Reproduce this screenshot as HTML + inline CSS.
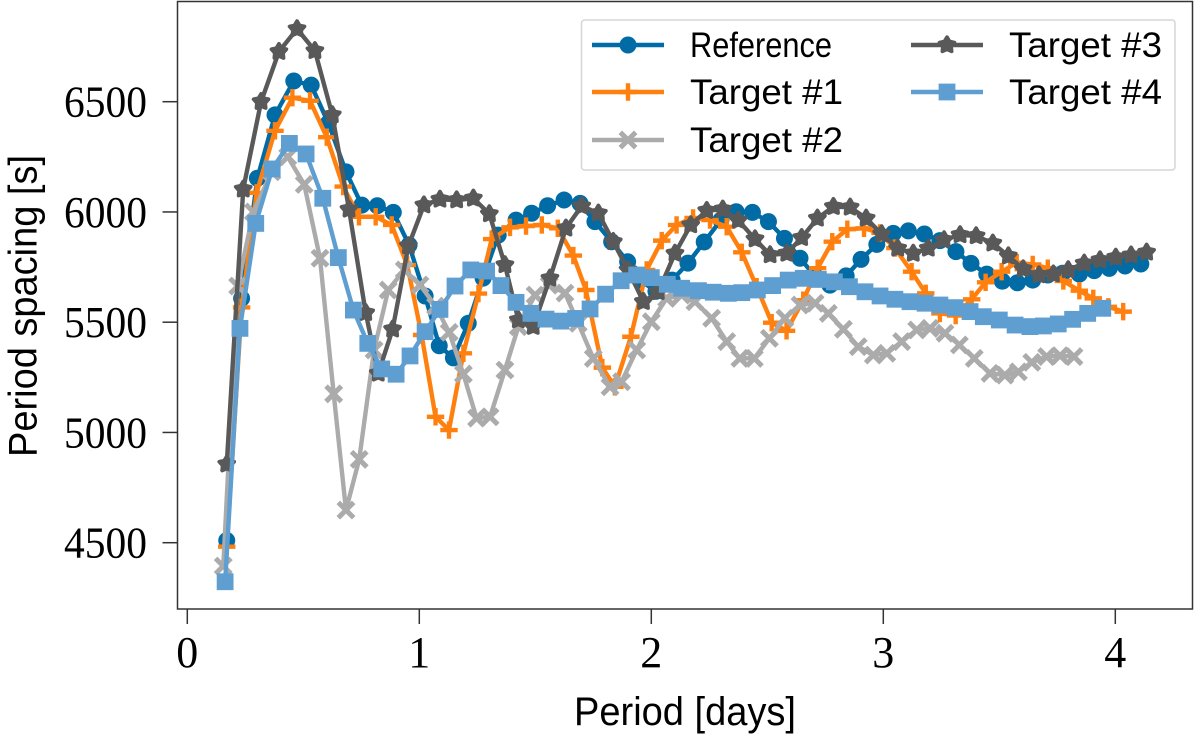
<!DOCTYPE html>
<html>
<head>
<meta charset="utf-8">
<title>Period spacing chart</title>
<style>
html,body{margin:0;padding:0;background:#fff;}
svg{display:block;}
.tick-label{font-family:"Liberation Serif",serif;font-size:44px;fill:#000;}
.axis-title{font-family:"Liberation Sans",sans-serif;font-size:40px;fill:#000;}
.legend-text{font-family:"Liberation Sans",sans-serif;font-size:35px;fill:#000;}
</style>
</head>
<body>
<svg id="chart" xmlns="http://www.w3.org/2000/svg" width="1200" height="737" viewBox="0 0 1200 737"></svg>
<script>
const xTickValues = [0, 1, 2, 3, 4];
const yTickValues = [4500, 5000, 5500, 6000, 6500];
const xAxisTitle = "Period [days]";
const yAxisTitle = "Period spacing [s]";

const referencePeriod = [.17,.234,.302,.378,.459,.534,.608,.684,.752,.819,.888,.956,1.025,1.086,1.147,1.211,1.275,1.34,1.417,1.484,1.553,1.624,1.693,1.757,1.829,1.898,1.951,2.02,2.09,2.158,2.228,2.3,2.366,2.436,2.505,2.574,2.641,2.705,2.77,2.84,2.904,2.972,3.043,3.108,3.177,3.244,3.313,3.378,3.446,3.513,3.578,3.644,3.709,3.773,3.845,3.909,3.974,4.042,4.11];
const referenceSpacing = [4510,5608,6153,6440,6594,6575,6403,6182,6031,6028,5998,5850,5619,5393,5338,5495,5700,5895,5963,5994,6028,6054,6039,5956,5865,5774,5691,5640,5691,5768,5864,5963,6001,5998,5956,5880,5790,5710,5668,5710,5785,5853,5903,5914,5900,5870,5820,5767,5718,5686,5679,5691,5714,5722,5718,5734,5744,5755,5764];

const target1Period = [.17,.234,.299,.378,.453,.529,.601,.672,.74,.812,.881,.948,1.01,1.07,1.128,1.19,1.255,1.312,1.391,1.46,1.528,1.597,1.664,1.718,1.789,1.843,1.912,1.98,2.045,2.109,2.18,2.253,2.325,2.39,2.454,2.519,2.583,2.655,2.717,2.78,2.845,2.917,2.986,3.05,3.122,3.183,3.244,3.312,3.381,3.441,3.51,3.575,3.644,3.709,3.776,3.845,3.905,3.97,4.034];
const target1Spacing = [4482,5567,6087,6368,6518,6504,6339,6115,5978,5978,5941,5759,5442,5071,5011,5359,5630,5877,5930,5936,5941,5926,5802,5646,5294,5207,5434,5737,5870,5941,5973,5963,5933,5817,5661,5498,5461,5600,5745,5865,5922,5926,5905,5836,5729,5631,5540,5530,5604,5681,5729,5770,5762,5745,5687,5643,5608,5570,5548];

const target2Period = [.155,.217,.285,.364,.433,.504,.572,.631,.684,.741,.805,.866,.935,1.003,1.07,1.129,1.19,1.247,1.305,1.369,1.427,1.499,1.56,1.628,1.685,1.75,1.822,1.872,1.937,2.0,2.066,2.131,2.188,2.26,2.325,2.382,2.444,2.509,2.576,2.641,2.706,2.763,2.828,2.892,2.957,3.015,3.079,3.144,3.201,3.266,3.328,3.392,3.46,3.524,3.582,3.64,3.704,3.762,3.822];
const target2Spacing = [4394,5664,6000,6182,6250,6125,5790,5175,4648,4878,5374,5646,5737,5669,5573,5454,5265,5065,5071,5283,5480,5623,5668,5632,5495,5336,5207,5230,5374,5502,5608,5623,5593,5518,5412,5336,5336,5427,5518,5578,5586,5540,5468,5389,5351,5359,5412,5465,5472,5450,5397,5336,5268,5260,5275,5318,5344,5348,5344];

const target3Period = [.17,.241,.318,.395,.473,.55,.625,.697,.769,.823,.885,.953,1.02,1.089,1.161,1.233,1.302,1.369,1.427,1.491,1.563,1.632,1.7,1.772,1.836,1.9,1.966,2.03,2.102,2.17,2.239,2.308,2.375,2.447,2.512,2.584,2.648,2.716,2.785,2.857,2.926,2.993,3.062,3.129,3.194,3.262,3.331,3.4,3.472,3.539,3.603,3.671,3.733,3.797,3.866,3.934,4.002,4.068,4.135];
const target3Spacing = [4856,6103,6500,6727,6830,6731,6440,6012,5543,5268,5468,5846,6031,6057,6054,6062,5991,5760,5510,5480,5699,5926,6027,5994,5865,5737,5593,5638,5812,5941,6006,6012,5962,5877,5805,5812,5883,5971,6024,6021,5971,5900,5835,5812,5835,5873,5896,5891,5858,5800,5741,5714,5718,5737,5767,5782,5794,5804,5817];

const target4Period = [.163,.227,.295,.366,.44,.512,.584,.651,.716,.778,.838,.9,.96,1.025,1.089,1.154,1.222,1.29,1.352,1.417,1.481,1.546,1.61,1.674,1.736,1.803,1.87,1.937,2.0,2.069,2.131,2.203,2.267,2.332,2.39,2.457,2.523,2.59,2.655,2.72,2.789,2.854,2.921,2.986,3.05,3.115,3.18,3.244,3.309,3.374,3.431,3.5,3.568,3.632,3.69,3.754,3.816,3.881,3.946];
const target4Spacing = [4323,5472,5948,6195,6311,6263,6062,5793,5555,5404,5288,5264,5347,5457,5558,5664,5737,5732,5666,5590,5540,5514,5505,5517,5560,5627,5688,5714,5702,5672,5654,5643,5636,5631,5634,5646,5666,5691,5699,5694,5683,5661,5638,5619,5604,5593,5586,5578,5566,5548,5525,5510,5487,5480,5483,5492,5513,5540,5563];

const seriesLabels = ["Reference", "Target #1", "Target #2", "Target #3", "Target #4"];

const svg = document.getElementById('chart');
const NS = 'http://www.w3.org/2000/svg';
const FRAME = {left: 177.5, right: 1192.5, top: 1.5, bottom: 609};

function xScale(v) { return 187.3 + v * 232; }
function yScale(v) { return 542.7 - (v - 4500) * 0.2205; }

function mk(tag, attrs, parent) {
  const el = document.createElementNS(NS, tag);
  for (const k in attrs) el.setAttribute(k, attrs[k]);
  (parent || svg).appendChild(el);
  return el;
}

function starPoints(cx, cy, R, r) {
  const p = [];
  for (let i = 0; i < 10; i++) {
    const a = -Math.PI / 2 + i * Math.PI / 5;
    const rad = i % 2 === 0 ? R : r;
    p.push((cx + rad * Math.cos(a)).toFixed(2) + ',' + (cy + rad * Math.sin(a)).toFixed(2));
  }
  return p.join(' ');
}

function drawMarker(kind, cx, cy, color, parent) {
  if (kind === 'circle') {
    mk('circle', {cx: cx, cy: cy, r: 8.5, fill: color}, parent);
  } else if (kind === 'plus') {
    const s = 8.7;
    mk('path', {d: `M${cx - s} ${cy}H${cx + s}M${cx} ${cy - s}V${cy + s}`, stroke: color, 'stroke-width': 4.4, fill: 'none'}, parent);
  } else if (kind === 'cross') {
    const s = 7.7;
    mk('path', {d: `M${cx - s} ${cy - s}L${cx + s} ${cy + s}M${cx - s} ${cy + s}L${cx + s} ${cy - s}`, stroke: color, 'stroke-width': 5, fill: 'none'}, parent);
  } else if (kind === 'star') {
    mk('polygon', {points: starPoints(cx, cy, 7.8, 4.3), fill: color, stroke: color, 'stroke-width': 3.8, 'stroke-linejoin': 'round'}, parent);
  } else if (kind === 'square') {
    mk('rect', {x: cx - 8.4, y: cy - 8.4, width: 16.8, height: 16.8, fill: color}, parent);
  }
}

// axes frame
const frame = mk('rect', {x: FRAME.left, y: FRAME.top, width: FRAME.right - FRAME.left, height: FRAME.bottom - FRAME.top, fill: '#fff', stroke: '#333', 'stroke-width': 1.5});



// ticks
xTickValues.forEach(function (t) {
  const x = xScale(t);
  const tick = mk('line', {x1: x, x2: x, y1: FRAME.bottom, y2: FRAME.bottom + 15, stroke: '#333', 'stroke-width': 1.5});
  
  
  const label = mk('text', {x: x, y: 667, 'text-anchor': 'middle', class: 'tick-label'});
  
  
  label.textContent = t;
});
yTickValues.forEach(function (t) {
  const y = yScale(t);
  const tick = mk('line', {x1: FRAME.left - 15, x2: FRAME.left, y1: y, y2: y, stroke: '#333', 'stroke-width': 1.5});
  
  
  const label = mk('text', {x: 147, y: y + 15, 'text-anchor': 'end', class: 'tick-label', textLength: 83, lengthAdjust: 'spacingAndGlyphs'});
  
  
  label.textContent = t;
});

// axis titles
const xTitle = mk('text', {x: 574, y: 725, class: 'axis-title', textLength: 222, lengthAdjust: 'spacingAndGlyphs'});


xTitle.textContent = xAxisTitle;

const yTitle = mk('text', {transform: 'translate(36.5,457) rotate(-90)', x: 0, y: 0, class: 'axis-title', textLength: 302, lengthAdjust: 'spacingAndGlyphs'});


yTitle.textContent = yAxisTitle;

// series
const seriesList = [
  {label: seriesLabels[0], xs: referencePeriod, ys: referenceSpacing, color: '#006BA4', marker: 'circle', name: 'series-reference'},
  {label: seriesLabels[1], xs: target1Period, ys: target1Spacing, color: '#FF800E', marker: 'plus', name: 'series-target-1'},
  {label: seriesLabels[2], xs: target2Period, ys: target2Spacing, color: '#ABABAB', marker: 'cross', name: 'series-target-2'},
  {label: seriesLabels[3], xs: target3Period, ys: target3Spacing, color: '#595959', marker: 'star', name: 'series-target-3'},
  {label: seriesLabels[4], xs: target4Period, ys: target4Spacing, color: '#5F9ED1', marker: 'square', name: 'series-target-4'}
];

seriesList.forEach(function (s) {
  const g = mk('g', {});
  
  
  const pts = s.xs.map(function (v, i) { return xScale(v).toFixed(2) + ',' + yScale(s.ys[i]).toFixed(2); }).join(' ');
  const line = mk('polyline', {points: pts, fill: 'none', stroke: s.color, 'stroke-width': 4.4, 'stroke-linejoin': 'round'}, g);
  
  
  s.xs.forEach(function (v, i) {
    drawMarker(s.marker, xScale(v), yScale(s.ys[i]), s.color, g);
  });
});

// legend
const legend = mk('g', {});


const legendBox = mk('rect', {x: 581.5, y: 20, width: 593.5, height: 150, rx: 3, fill: '#fff', 'fill-opacity': 0.8, stroke: '#d6d6d6', 'stroke-width': 1.5}, legend);



const legendSlots = [[592, 45], [592, 92], [592, 140], [911, 45], [911, 92]];
const legendTextWidths = [142, 153, 153, 153, 153];
seriesList.forEach(function (s, i) {
  const slot = legendSlots[i];
  const entry = mk('g', {}, legend);
  
  
  mk('line', {x1: slot[0], x2: slot[0] + 72, y1: slot[1], y2: slot[1], stroke: s.color, 'stroke-width': 4.4}, entry);
  drawMarker(s.marker, slot[0] + 36, slot[1], s.color, entry);
  const t = mk('text', {x: slot[0] + 98, y: slot[1] + 12, class: 'legend-text', textLength: legendTextWidths[i], lengthAdjust: 'spacingAndGlyphs'}, entry);
  
  
  t.textContent = s.label;
});
</script>
</body>
</html>
